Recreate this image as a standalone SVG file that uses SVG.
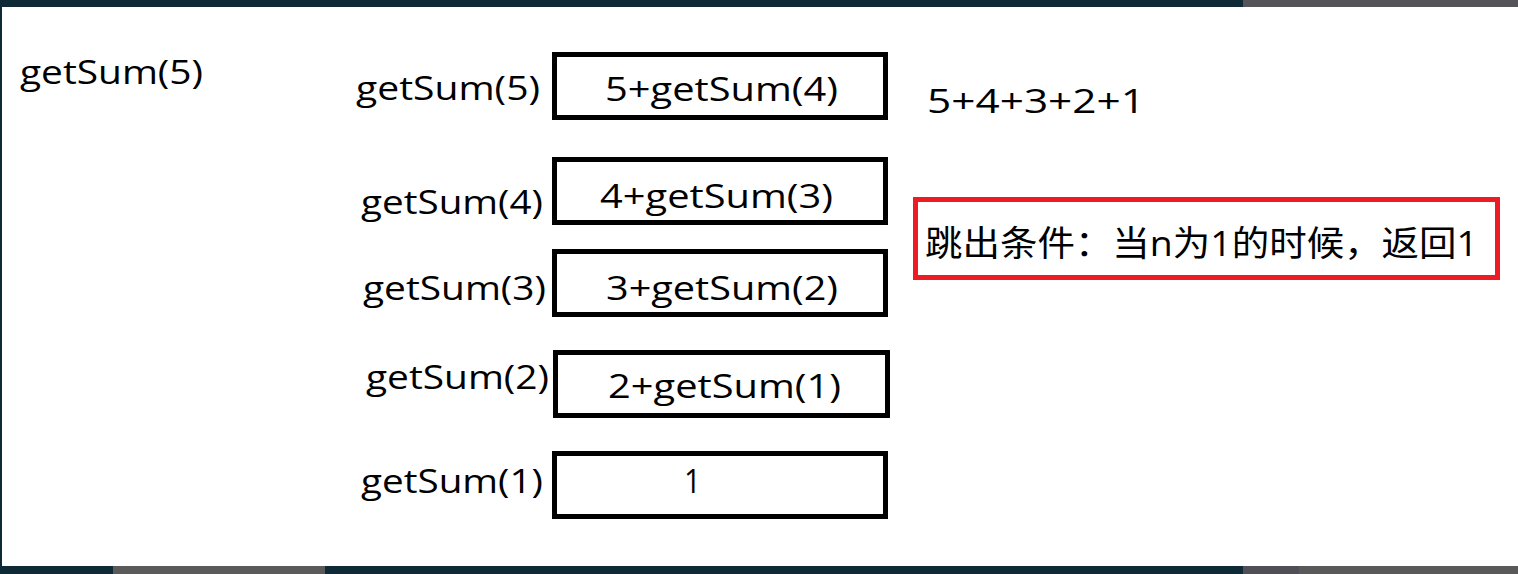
<svg xmlns="http://www.w3.org/2000/svg" width="1518" height="574" viewBox="0 0 1518 574">
<style>
.t{font-family:"Open Sans","Noto Sans",sans-serif;font-size:33px;fill:#000}
.c{font-family:"Open Sans","Noto Sans CJK SC",sans-serif;font-size:35px;fill:#000}
.box{fill:#fff;stroke:#000;stroke-width:5}
.red{fill:none;stroke:#ed1c24;stroke-width:5}
</style>
<g id="background">
<rect x="0" y="0" width="1518" height="574" fill="#0e2a36"/>
<rect x="1243" y="0" width="275" height="7" fill="#555559"/>
<rect x="113" y="566" width="212" height="8" fill="#5a5a5a"/>
<rect x="1243" y="566" width="56" height="8" fill="#4f4f55"/>
<rect x="1299" y="566" width="219" height="8" fill="#595959"/>
<rect x="2" y="7" width="1516" height="559" fill="#fff"/>
</g>
<g id="title"><text class="t" x="20" y="84" textLength="183" lengthAdjust="spacingAndGlyphs">getSum(5)</text></g>
<g id="connectors"/>
<g id="call5">
<text class="t" x="356" y="100" textLength="184" lengthAdjust="spacingAndGlyphs">getSum(5)</text>
<rect class="box" x="554.5" y="54.5" width="331" height="63"/>
<text class="t" x="605" y="101" textLength="233" lengthAdjust="spacingAndGlyphs">5+getSum(4)</text>
</g>
<g id="call4">
<text class="t" x="361" y="214" textLength="182" lengthAdjust="spacingAndGlyphs">getSum(4)</text>
<rect class="box" x="554.5" y="159.5" width="331" height="63"/>
<text class="t" x="600" y="208" textLength="233" lengthAdjust="spacingAndGlyphs">4+getSum(3)</text>
</g>
<g id="call3">
<text class="t" x="363" y="300" textLength="183" lengthAdjust="spacingAndGlyphs">getSum(3)</text>
<rect class="box" x="554.5" y="251.5" width="331" height="63"/>
<text class="t" x="606" y="300" textLength="232" lengthAdjust="spacingAndGlyphs">3+getSum(2)</text>
</g>
<g id="call2">
<text class="t" x="366" y="389" textLength="183" lengthAdjust="spacingAndGlyphs">getSum(2)</text>
<rect class="box" x="555.5" y="352.5" width="332" height="63"/>
<text class="t" x="608" y="398" textLength="233" lengthAdjust="spacingAndGlyphs">2+getSum(1)</text>
</g>
<g id="call1">
<text class="t" x="361" y="493" textLength="182" lengthAdjust="spacingAndGlyphs">getSum(1)</text>
<rect class="box" x="554.5" y="453.5" width="331" height="63"/>
<text class="t" x="684" y="493" textLength="17" lengthAdjust="spacingAndGlyphs">1</text>
</g>
<g id="result"><text class="t" x="927" y="113" textLength="218" lengthAdjust="spacingAndGlyphs">5+4+3+2+1</text></g>
<g id="condition">
<rect class="red" x="915.5" y="199.5" width="582" height="78"/>
<text class="c" x="925" y="256" textLength="553" lengthAdjust="spacingAndGlyphs">跳出条件：当n为1的时候，返回1</text>
</g>
</svg>
